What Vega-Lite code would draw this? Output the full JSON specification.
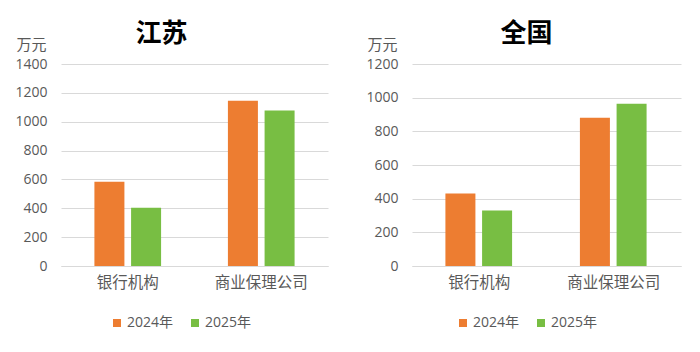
{
  "$schema": "https://vega.github.io/schema/vega-lite/v6.json",
  "background": "white",
  "padding": {"left": 14, "top": 21, "right": 5, "bottom": 5},
  "datasets": {
    "js": [
      {"cat": "银行机构", "year": "2024年", "value": 584},
      {"cat": "银行机构", "year": "2025年", "value": 404},
      {"cat": "商业保理公司", "year": "2024年", "value": 1146},
      {"cat": "商业保理公司", "year": "2025年", "value": 1077}
    ],
    "qg": [
      {"cat": "银行机构", "year": "2024年", "value": 430},
      {"cat": "银行机构", "year": "2025年", "value": 329},
      {"cat": "商业保理公司", "year": "2024年", "value": 881},
      {"cat": "商业保理公司", "year": "2025年", "value": 964}
    ]
  },
  "config": {
    "font": "Noto Sans CJK SC",
    "view": {"stroke": null},
    "concat": {"spacing": 37},
    "axis": {"labelFont": "Noto Sans CJK SC", "titleFont": "Noto Sans CJK SC", "labelColor": "#595959", "titleColor": "#595959"},
    "title": {"font": "Noto Sans CJK SC", "fontSize": 26, "fontWeight": "bold", "color": "#000000"}
  },
  "hconcat": [
    {
      "width": 267,
      "height": 202,
      "title": {"text": "江苏", "anchor": "middle", "dx": -33, "offset": -10},
      "data": {"name": "js"},
      "mark": {"type": "bar", "width": 30},
      "encoding": {
        "x": {"field": "cat", "type": "nominal", "sort": ["银行机构", "商业保理公司"],
              "scale": {"paddingInner": 0, "paddingOuter": 0},
              "axis": {"title": null, "labelAngle": 0, "labelFontSize": 15.5, "labelPadding": 9, "ticks": false, "domainColor": "#d9d9d9"}},
        "xOffset": {"field": "year", "type": "nominal", "scale": {"paddingInner": 0.26, "paddingOuter": 0.95}},
        "y": {"field": "value", "type": "quantitative",
              "scale": {"domain": [0, 1400]},
              "axis": {"title": "万元", "titleAngle": 0, "titleAlign": "left", "titleBaseline": "middle", "titleX": -45, "titleY": -20, "titleFontSize": 15, "titleFontWeight": "normal",
                       "values": [0, 200, 400, 600, 800, 1000, 1200, 1400], "format": "d", "labelFont": "Open Sans", "labelFontSize": 14, "labelPadding": 14, "ticks": false, "domain": false, "gridColor": "#d9d9d9"}},
        "color": {"field": "year", "type": "nominal",
                  "scale": {"domain": ["2024年", "2025年"], "range": ["#ED7D31", "#78BE43"]},
                  "legend": {"title": null, "orient": "none", "direction": "horizontal", "legendX": 49, "legendY": 252, "symbolType": "square", "symbolSize": 64, "symbolStrokeWidth": 0, "labelFont": "Open Sans, Noto Sans CJK SC", "labelFontSize": 14, "labelColor": "#595959", "labelOffset": 3, "columnPadding": 14}}
      }
    },
    {
      "width": 269,
      "height": 202,
      "title": {"text": "全国", "anchor": "middle", "dx": -20, "offset": -10},
      "data": {"name": "qg"},
      "mark": {"type": "bar", "width": 30},
      "encoding": {
        "x": {"field": "cat", "type": "nominal", "sort": ["银行机构", "商业保理公司"],
              "scale": {"paddingInner": 0, "paddingOuter": 0},
              "axis": {"title": null, "labelAngle": 0, "labelFontSize": 15.5, "labelPadding": 9, "ticks": false, "domainColor": "#d9d9d9"}},
        "xOffset": {"field": "year", "type": "nominal", "scale": {"paddingInner": 0.26, "paddingOuter": 0.95}},
        "y": {"field": "value", "type": "quantitative",
              "scale": {"domain": [0, 1200]},
              "axis": {"title": "万元", "titleAngle": 0, "titleAlign": "left", "titleBaseline": "middle", "titleX": -45, "titleY": -20, "titleFontSize": 15, "titleFontWeight": "normal",
                       "values": [0, 200, 400, 600, 800, 1000, 1200], "format": "d", "labelFont": "Open Sans", "labelFontSize": 14, "labelPadding": 14, "ticks": false, "domain": false, "gridColor": "#d9d9d9"}},
        "color": {"field": "year", "type": "nominal",
                  "scale": {"domain": ["2024年", "2025年"], "range": ["#ED7D31", "#78BE43"]},
                  "legend": {"title": null, "orient": "none", "direction": "horizontal", "legendX": 44, "legendY": 252, "symbolType": "square", "symbolSize": 64, "symbolStrokeWidth": 0, "labelFont": "Open Sans, Noto Sans CJK SC", "labelFontSize": 14, "labelColor": "#595959", "labelOffset": 3, "columnPadding": 14}}
      }
    }
  ],
  "resolve": {"legend": {"color": "independent"}, "scale": {"y": "independent"}}
}
